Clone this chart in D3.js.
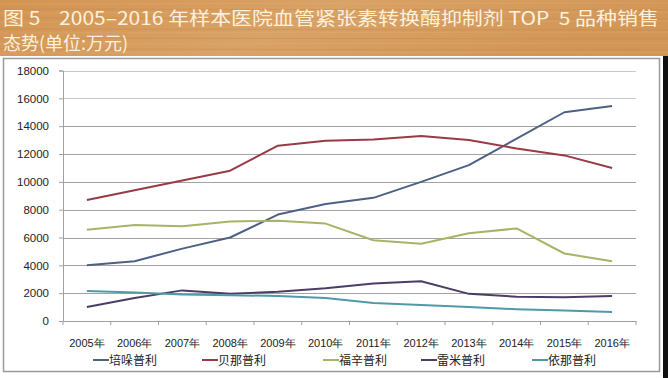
<!DOCTYPE html>
<html><head><meta charset="utf-8">
<script src="https://cdn.jsdelivr.net/npm/d3@7/dist/d3.min.js"></script>
<style>html,body{margin:0;padding:0;background:#fff;}svg{display:block;}</style>
</head><body><svg id="c" width="668" height="378"></svg>
<script>
const years = ["2005年","2006年","2007年","2008年","2009年","2010年","2011年","2012年","2013年","2014年","2015年","2016年"];
const seriesNames = ["培哚普利","贝那普利","福辛普利","雷米普利","依那普利"];
const perindopril = [4000,4300,5200,6000,7650,8400,8850,10000,11200,13100,15000,15450];
const benazepril  = [8700,9400,10100,10800,12600,12950,13050,13300,13000,12400,11900,11000];
const fosinopril  = [6550,6900,6800,7150,7200,7000,5800,5550,6300,6650,4850,4300];
const ramipril    = [1000,1650,2200,1950,2100,2350,2700,2850,1950,1750,1700,1800];
const enalapril   = [2150,2050,1900,1850,1800,1650,1300,1150,1000,850,750,650];
const yTicks = [0,2000,4000,6000,8000,10000,12000,14000,16000,18000];
const colors = ["#4d6185","#9a3a47","#a7b466","#4c3d66","#4f9aa8"];
const allSeries = [perindopril,benazepril,fosinopril,ramipril,enalapril];

const svg = d3.select("#c");
// title band
const defs = svg.append("defs");
const g1 = defs.append("linearGradient").attr("id","wood").attr("x1",0).attr("y1",0).attr("x2",1).attr("y2",0.2);
g1.append("stop").attr("offset","0%").attr("stop-color","#d39452");
g1.append("stop").attr("offset","50%").attr("stop-color","#d9a266");
g1.append("stop").attr("offset","100%").attr("stop-color","#d29656");
svg.append("rect").attr("x",0).attr("y",0).attr("width",668).attr("height",56).attr("fill","url(#wood)");
const grain = [4,9,13,18,22,29,33,38,44,49,53];
grain.forEach((gy,i)=>{
  svg.append("line").attr("x1",0).attr("x2",668).attr("y1",gy).attr("y2",gy+(i%2?1:-1))
    .attr("stroke", i%2? "#c7874a":"#e0ae75").attr("stroke-width",1).attr("opacity",0.45);
});
const tfont = "'Noto Sans CJK SC','Noto Sans',sans-serif";
svg.append("text").attr("x",3).attr("y",25).attr("font-family",tfont).attr("font-size",18)
  .attr("fill","#fbf1de").attr("textLength",656).attr("lengthAdjust","spacingAndGlyphs")
  .style("white-space","pre")
  .text("图 5    2005–2016 年样本医院血管紧张素转换酶抑制剂 TOP  5 品种销售");
svg.append("text").attr("x",3).attr("y",50).attr("font-family",tfont).attr("font-size",18)
  .attr("fill","#fbf1de").text("态势(单位:万元)");

// chart box
svg.append("rect").attr("x",3.5).attr("y",58.5).attr("width",656).attr("height",313)
  .attr("fill","#fff").attr("stroke","#9a9a9a").attr("stroke-width",1.5);
svg.append("rect").attr("x",663).attr("y",56).attr("width",5).attr("height",322).attr("fill","#111");

const pLeft = 63, pRight = 636, pTop = 70.5, pBottom = 321;
const x = d3.scaleBand().domain(years).range([pLeft,pRight]);
const y = d3.scaleLinear().domain([0,18000]).range([pBottom,pTop]);

// gridlines
svg.append("g").selectAll("line").data(yTicks.slice(1)).join("line")
  .attr("x1",pLeft).attr("x2",pRight).attr("y1",d=>Math.round(y(d))+0.5).attr("y2",d=>Math.round(y(d))+0.5)
  .attr("stroke",d=> (d===16000||d===18000)?"#c8c8c8":"#a3a3a3").attr("stroke-width",1.2);

const afont = "'Liberation Sans',Arial,sans-serif";
const yAxis = svg.append("g").attr("transform",`translate(${pLeft},0)`)
  .call(d3.axisLeft(y).tickValues(yTicks).tickSize(4).tickPadding(10).tickFormat(d3.format("d")));
yAxis.select(".domain").attr("stroke","#a0a0a0");
yAxis.selectAll(".tick line").attr("stroke","#a0a0a0");
yAxis.selectAll("text").attr("font-family",afont).attr("font-size",11.5).attr("fill","#222");

const xAxis = svg.append("g").attr("transform",`translate(0,${pBottom})`)
  .call(d3.axisBottom(x).tickSize(0).tickPadding(18));
xAxis.select(".domain").attr("stroke","#a0a0a0");
xAxis.selectAll("text").attr("font-family",afont).attr("font-size",11).attr("fill","#222");
// boundary ticks
const bounds = years.map(d=>x(d)).concat([pRight]);
svg.append("g").selectAll("line").data(bounds).join("line")
  .attr("x1",d=>d).attr("x2",d=>d).attr("y1",pBottom).attr("y2",pBottom+4).attr("stroke","#a0a0a0");

const line = d3.line().x((d,i)=>x(years[i])+x.bandwidth()/2).y(d=>y(d));
svg.append("g").selectAll("path").data(allSeries).join("path")
  .attr("d",d=>line(d)).attr("fill","none").attr("stroke",(d,i)=>colors[i])
  .attr("stroke-width",2).attr("stroke-linejoin","round");

// legend
const legX = [93,202,323,421,532];
const leg = svg.append("g").selectAll("g").data(seriesNames).join("g")
  .attr("transform",(d,i)=>`translate(${legX[i]},360)`);
leg.append("line").attr("x1",0).attr("x2",16).attr("y1",0).attr("y2",0)
  .attr("stroke",(d,i)=>colors[i]).attr("stroke-width",2);
leg.append("text").attr("x",16).attr("y",4.5).attr("font-family","'Noto Sans CJK SC',sans-serif")
  .attr("font-size",12).attr("fill","#222").text(d=>d);
</script></body></html>
